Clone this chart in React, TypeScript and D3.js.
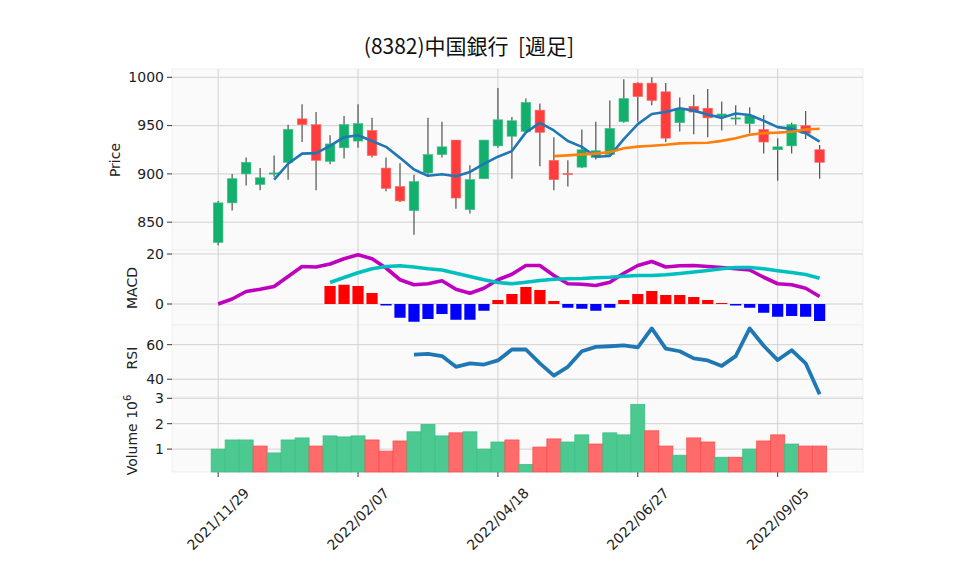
import React, { useEffect, useRef } from "react";
import * as d3 from "d3";

// weekly bars, (8382) 中国銀行
const dates = [
  "2021/11/29", "2021/12/06", "2021/12/13", "2021/12/20", "2021/12/27",
  "2022/01/03", "2022/01/10", "2022/01/17", "2022/01/24", "2022/01/31",
  "2022/02/07", "2022/02/14", "2022/02/21", "2022/02/28", "2022/03/07",
  "2022/03/14", "2022/03/21", "2022/03/28", "2022/04/04", "2022/04/11",
  "2022/04/18", "2022/04/25", "2022/05/02", "2022/05/09", "2022/05/16",
  "2022/05/23", "2022/05/30", "2022/06/06", "2022/06/13", "2022/06/20",
  "2022/06/27", "2022/07/04", "2022/07/11", "2022/07/18", "2022/07/25",
  "2022/08/01", "2022/08/08", "2022/08/15", "2022/08/22", "2022/08/29",
  "2022/09/05", "2022/09/12", "2022/09/19", "2022/09/26",
];
const tickLabels = ["2021/11/29", "2022/02/07", "2022/04/18", "2022/06/27", "2022/09/05"];

const opens = [829, 870, 900, 889, 900, 912, 957, 951, 913, 927, 934, 945, 906, 887, 862, 901, 920, 935, 863, 895, 929, 939, 944, 966, 914, 900.5, 907, 917, 920, 954, 994, 994, 985, 953, 970, 968, 960, 957, 952, 946, 925, 929, 950, 925];
const highs = [872, 900, 917, 906, 919, 951, 972, 964, 940, 960, 972, 958, 917, 911, 899, 958, 954, 935, 909, 935, 989, 959, 978, 973, 938, 914, 946, 954, 976, 998, 995, 1000, 994, 979, 982, 988, 975, 971, 969, 961, 937, 953, 965, 930];
const lows = [826, 862, 888, 883, 897, 894, 933, 883, 910, 916, 927, 917, 882, 871, 837, 897, 917, 864, 859, 895, 927, 895, 943, 908, 883, 887, 906, 915, 918, 953, 954, 971, 933, 944, 941, 938, 945, 951, 942, 921, 893, 921, 936, 895];
const closes = [870, 895, 912, 896, 901, 946, 951, 914, 931, 951, 952, 919, 885, 872, 892, 920, 928, 875, 894, 935, 956, 955, 974, 943, 894, 900, 925, 924, 947, 978, 980, 976, 937, 967, 964, 958, 962, 958, 960, 933, 928, 951, 942, 912];

const ma5 = [null, null, null, null, 894, 910.5, 921, 921.5, 929, 938, 940, 934, 928, 916.6, 904.6, 898, 899.7, 897.5, 902, 910.4, 917.8, 923.6, 943, 952.8, 945, 934, 928, 917.8, 918.6, 936, 951.5, 962, 964, 968, 965.5, 961.5, 958, 962.5, 961, 955, 948.4, 946.6, 942.2, 933.5];
const ma25 = [null, null, null, null, null, null, null, null, null, null, null, null, null, null, null, null, null, null, null, null, null, null, null, null, 918.4, 919.2, 920.2, 921, 922.5, 926.5, 928.2, 929.2, 930.2, 931.6, 932, 932.3, 934.2, 937, 940.6, 942.2, 942.7, 943.6, 946, 946.8];

const macd = [0, 2.0, 5.0, 5.9, 7.0, 11, 15, 14.8, 16, 18.1, 19.7, 18.1, 14.4, 9.7, 7.7, 8.1, 9.3, 5.9, 4.3, 6.3, 9.7, 11.9, 15.4, 15.4, 11.4, 8.1, 7.9, 7.4, 8.7, 12.3, 15.4, 17, 14.8, 15.3, 15.4, 15, 14.6, 14.1, 13.6, 10.7, 8.1, 7.7, 6.3, 3.0];
const signal = [null, null, null, null, null, null, null, null, 8.6, 10.6, 12.5, 14.1, 15.0, 15.3, 14.8, 14.1, 13.6, 12.3, 11.0, 9.7, 8.6, 8.1, 8.7, 9.4, 9.9, 10.1, 10.2, 10.5, 10.7, 11.1, 11.4, 11.4, 11.7, 12.2, 12.8, 13.4, 14.1, 14.6, 14.6, 14.1, 13.3, 12.6, 11.8, 10.3];
const hist = [null, null, null, null, null, null, null, null, 7.2, 7.7, 7.2, 4.4, -0.6, -5.5, -7.1, -6.0, -4.0, -6.3, -6.3, -2.7, 1.6, 4.0, 6.8, 5.6, 1.2, -1.5, -1.9, -2.7, -1.5, 1.6, 4.0, 5.2, 3.6, 3.6, 2.8, 1.6, 0.4, -0.6, -1.5, -3.5, -5.1, -4.8, -5.1, -6.8];

const rsi = [null, null, null, null, null, null, null, null, null, null, null, null, null, null, 54.2, 54.7, 53.4, 47.2, 49.2, 48.5, 50.9, 57.2, 57.2, 49.2, 42.1, 47.2, 56.2, 58.7, 59.1, 59.6, 58.5, 69.4, 57.7, 56.2, 52.1, 50.9, 47.7, 53.4, 69.4, 59.4, 51.1, 56.8, 49.2, 31.3];

// volume in millions of shares, and whether the bar is drawn as "up"
const volumes = [1.0, 1.36, 1.36, 1.12, 0.85, 1.36, 1.44, 1.12, 1.52, 1.48, 1.52, 1.36, 0.92, 1.32, 1.68, 1.97, 1.52, 1.64, 1.68, 1.0, 1.28, 1.36, 0.4, 1.08, 1.4, 1.28, 1.56, 1.2, 1.64, 1.56, 2.76, 1.72, 1.12, 0.76, 1.44, 1.28, 0.68, 0.68, 1.0, 1.32, 1.56, 1.2, 1.12, 1.12];
const volUp = [1, 1, 1, 0, 1, 1, 1, 0, 1, 1, 1, 0, 0, 0, 1, 1, 1, 0, 1, 1, 1, 0, 1, 0, 0, 1, 1, 0, 1, 1, 1, 0, 0, 1, 0, 0, 1, 0, 1, 0, 0, 1, 0, 0];

const App = () => {
  const ref = useRef<SVGSVGElement | null>(null);

  useEffect(() => {
    document.body.style.margin = "0";
    const svg = d3.select(ref.current);
    svg.selectAll("*").remove();

    const left = 172, right = 863;
    const font = "'DejaVu Sans', sans-serif";
    const panels = [
      { top: 69, bottom: 250 },
      { top: 250, bottom: 325 },
      { top: 325, bottom: 397 },
      { top: 397, bottom: 472 },
    ];

    const x = d3.scaleLinear().domain([-3.3, 46.1]).range([left, right]);
    const yP = d3.scaleLinear().domain([821.2, 1008.6]).range([250, 69]);
    const yM = d3.scaleLinear().domain([-8.4, 21.6]).range([325, 250]);
    const yR = d3.scaleLinear().domain([29.7, 71.4]).range([397, 325]);
    const yV = d3.scaleLinear().domain([0.1, 3.05]).range([472, 397]);

    // panel backgrounds
    svg.append("g").selectAll("rect").data(panels).enter().append("rect")
      .attr("x", left).attr("y", (d) => d.top)
      .attr("width", right - left).attr("height", (d) => d.bottom - d.top)
      .attr("fill", "#fafafa").attr("stroke", "#efefef");

    const grid = svg.append("g").attr("stroke", "#d2d2d2").attr("stroke-width", 1);
    const tickIdx = tickLabels.map((t) => dates.indexOf(t));
    grid.selectAll("line.v").data(tickIdx).enter().append("line")
      .attr("x1", (d) => x(d)).attr("x2", (d) => x(d))
      .attr("y1", 69).attr("y2", 472);

    const yAxes = [
      { s: yP, ticks: [850, 900, 950, 1000] },
      { s: yM, ticks: [0, 20] },
      { s: yR, ticks: [40, 60] },
      { s: yV, ticks: [1, 2, 3] },
    ];
    const axisG = svg.append("g").attr("font-family", font).attr("font-size", 14).attr("fill", "#222")
      .style("white-space", "pre");
    yAxes.forEach((a) => {
      a.ticks.forEach((t) => {
        const yy = a.s(t);
        grid.append("line").attr("x1", left).attr("x2", right).attr("y1", yy).attr("y2", yy);
        axisG.append("line").attr("x1", left - 5).attr("x2", left).attr("y1", yy).attr("y2", yy)
          .attr("stroke", "#333").attr("stroke-width", 1);
        axisG.append("text").attr("x", left - 8).attr("y", yy).attr("dy", "0.35em")
          .attr("text-anchor", "end").text(t);
      });
    });

    // x ticks + rotated date labels
    tickIdx.forEach((d, k) => {
      axisG.append("line").attr("x1", x(d)).attr("x2", x(d)).attr("y1", 472).attr("y2", 477)
        .attr("stroke", "#333");
      axisG.append("text")
        .attr("transform", `translate(${x(d)},${519}) rotate(-45)`)
        .attr("text-anchor", "middle").attr("dy", "0.35em")
        .text(tickLabels[k]);
    });

    // axis titles
    const lab = (tx: number, ty: number, s: string) =>
      axisG.append("text").attr("transform", `translate(${tx},${ty}) rotate(-90)`)
        .attr("text-anchor", "middle").text(s);
    lab(120, 160, "Price");
    lab(137, 288, "MACD");
    lab(137, 358, "RSI");
    const vt = axisG.append("text").attr("transform", `translate(137,435) rotate(-90)`)
      .attr("text-anchor", "middle");
    vt.append("tspan").text("Volume  10");
    vt.append("tspan").attr("dy", -6).attr("font-size", 10).text("6");

    // candles
    const idx = d3.range(closes.length);
    const cg = svg.append("g");
    cg.selectAll("line").data(idx).enter().append("line")
      .attr("x1", (i) => x(i)).attr("x2", (i) => x(i))
      .attr("y1", (i) => yP(highs[i])).attr("y2", (i) => yP(lows[i]))
      .attr("stroke", "#505050").attr("stroke-width", 1.2);
    cg.selectAll("rect").data(idx).enter().append("rect")
      .attr("x", (i) => x(i) - 4.8).attr("width", 9.6)
      .attr("y", (i) => yP(Math.max(opens[i], closes[i])))
      .attr("height", (i) => Math.max(1.2, Math.abs(yP(opens[i]) - yP(closes[i]))))
      .attr("fill", (i) => (closes[i] >= opens[i] ? "#12b06c" : "#ff3d3d"))
      .attr("stroke", (i) => (closes[i] >= opens[i] ? "#3fbf86" : "#ff6a6a"))
      .attr("stroke-width", 0.6);

    const drawLine = (vals: (number | null)[], ys: d3.ScaleLinear<number, number>, color: string, w: number) => {
      const line = d3.line<number | null>()
        .defined((d) => d !== null)
        .x((_, i) => x(i)).y((d) => ys(d as number));
      svg.append("path").datum(vals).attr("d", line)
        .attr("fill", "none").attr("stroke", color).attr("stroke-width", w)
        .attr("stroke-linejoin", "round");
    };
    drawLine(ma5, yP, "#1f77b4", 2.6);
    drawLine(ma25, yP, "#ff7f0e", 2.6);

    // MACD
    svg.append("g").selectAll("rect").data(idx.filter((i) => hist[i] !== null)).enter().append("rect")
      .attr("x", (i) => x(i) - 5.6).attr("width", 11.2)
      .attr("y", (i) => yM(Math.max(0, hist[i] as number)))
      .attr("height", (i) => Math.abs(yM(hist[i] as number) - yM(0)))
      .attr("fill", (i) => ((hist[i] as number) >= 0 ? "#ff0000" : "#0000ff"));
    drawLine(macd, yM, "#bf00bf", 3.6);
    drawLine(signal, yM, "#00bfbf", 3.6);

    // RSI
    drawLine(rsi, yR, "#1f77b4", 3.8);

    // volume
    svg.append("g").selectAll("rect").data(idx).enter().append("rect")
      .attr("x", (i) => x(i) - 7).attr("width", 14)
      .attr("y", (i) => yV(volumes[i]))
      .attr("height", (i) => yV(0.1) - yV(volumes[i]))
      .attr("fill", (i) => (volUp[i] ? "#4cc891" : "#ff6b6b"))
      .attr("stroke", (i) => (volUp[i] ? "#3fbf86" : "#ff4d4d"))
      .attr("stroke-width", 0.8);

    svg.append("text").attr("x", 469).attr("y", 54).attr("text-anchor", "middle")
      .attr("font-family", "'Noto Sans CJK JP', sans-serif").attr("font-size", 21).attr("fill", "#111")
      .style("white-space", "pre")
      .text("(8382)中国銀行  [週足]");
  }, []);

  return (
    <svg ref={ref} width={958} height={575} style={{ display: "block", background: "#fff" }}></svg>
  );
};

export default App;
